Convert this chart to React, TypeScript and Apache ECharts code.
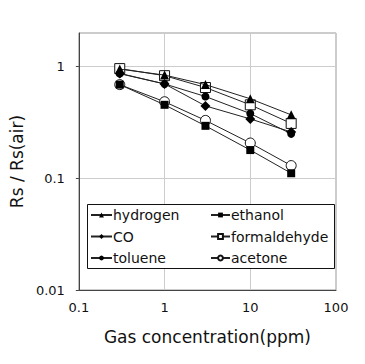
import React, { useEffect, useRef } from "react";
import * as echarts from "echarts";

const concentrations = [0.3, 1, 3, 10, 30];
const hydrogen = [0.95, 0.84, 0.69, 0.515, 0.37];
const ethanol = [0.69, 0.455, 0.295, 0.179, 0.111];
const co = [0.87, 0.7, 0.445, 0.34, 0.26];
const formaldehyde = [0.96, 0.83, 0.65, 0.455, 0.31];
const toluene = [0.865, 0.7, 0.54, 0.38, 0.25];
const acetone = [0.69, 0.485, 0.33, 0.207, 0.13];

const FONT = "DejaVu Sans";
const LINE = "#222";

function makeSeries(name: string, values: number[], symbol: string, size: number, open: boolean) {
  return {
    name,
    type: "line",
    data: concentrations.map((c, i) => [c, values[i]]),
    symbol,
    symbolSize: size,
    showAllSymbol: true,
    lineStyle: { color: LINE, width: 1 },
    itemStyle: open
      ? { color: "#fff", borderColor: "#111", borderWidth: 1 }
      : { color: "#000", borderColor: "#000", borderWidth: 0 },
    emphasis: { disabled: true },
    z: open ? 3 : 4,
  };
}

export default function App() {
  const ref = useRef<HTMLDivElement>(null);
  useEffect(() => {
    if (!ref.current) return;
    const chart = echarts.init(ref.current, undefined, { renderer: "svg" });
    const legendText = { fontFamily: FONT, fontSize: 14, color: "#111", lineHeight: 14, padding: [0, 0, 0, -4] };
    chart.setOption({
      animation: false,
      backgroundColor: "#fff",
      grid: { left: 78, right: 29, top: 33, bottom: 74, show: true, borderColor: "#999", borderWidth: 1 },
      xAxis: {
        type: "log",
        logBase: 10,
        min: 0.1,
        max: 100,
        name: "Gas concentration(ppm)",
        nameLocation: "middle",
        nameGap: 38,
        nameTextStyle: { fontFamily: FONT, fontSize: 17, color: "#111" },
        axisLine: { show: true, lineStyle: { color: "#444", width: 1 } },
        axisTick: { show: false },
        axisLabel: { fontFamily: FONT, fontSize: 13, color: "#111", margin: 11 },
        splitLine: { show: true, lineStyle: { color: "#ccc", width: 1 } },
        minorTick: { show: false },
      },
      yAxis: {
        type: "log",
        logBase: 10,
        min: 0.01,
        max: 2,
        name: "Rs / Rs(air)",
        nameLocation: "middle",
        nameGap: 51,
        nameTextStyle: { fontFamily: FONT, fontSize: 17, color: "#111" },
        axisLine: { show: true, lineStyle: { color: "#444", width: 1 } },
        axisTick: { show: true, length: 3, lineStyle: { color: "#444" } },
        axisLabel: { fontFamily: FONT, fontSize: 13, color: "#111", margin: 14, showMaxLabel: false },
        splitLine: { show: true, lineStyle: { color: "#ccc", width: 1 } },
      },
      graphic: [
        {
          type: "rect",
          shape: { x: 87.5, y: 204.5, width: 247, height: 64 },
          style: { fill: "#fff", stroke: "#111", lineWidth: 1 },
          z: 5,
        },
      ],
      legend: [
        {
          orient: "vertical",
          left: 90,
          top: 208,
          padding: 0,
          itemWidth: 21,
          itemHeight: 6,
          itemGap: 7.5,
          z: 10,
          textStyle: legendText,
          data: ["hydrogen", "CO", "toluene"],
        },
        {
          orient: "vertical",
          left: 210,
          top: 208,
          padding: 0,
          itemWidth: 19,
          itemHeight: 6,
          itemGap: 7.5,
          z: 10,
          textStyle: legendText,
          data: ["ethanol", "formaldehyde", "acetone"],
        },
      ],
      series: [
        makeSeries("hydrogen", hydrogen, "triangle", 9, false),
        makeSeries("ethanol", ethanol, "rect", 8, false),
        makeSeries("CO", co, "diamond", 10, false),
        makeSeries("formaldehyde", formaldehyde, "rect", 10, true),
        makeSeries("toluene", toluene, "circle", 8, false),
        makeSeries("acetone", acetone, "circle", 10, true),
      ],
    });
    return () => chart.dispose();
  }, []);
  return <div ref={ref} style={{ width: 365, height: 364, position: "absolute", left: 0, top: 0 }} />;
}
